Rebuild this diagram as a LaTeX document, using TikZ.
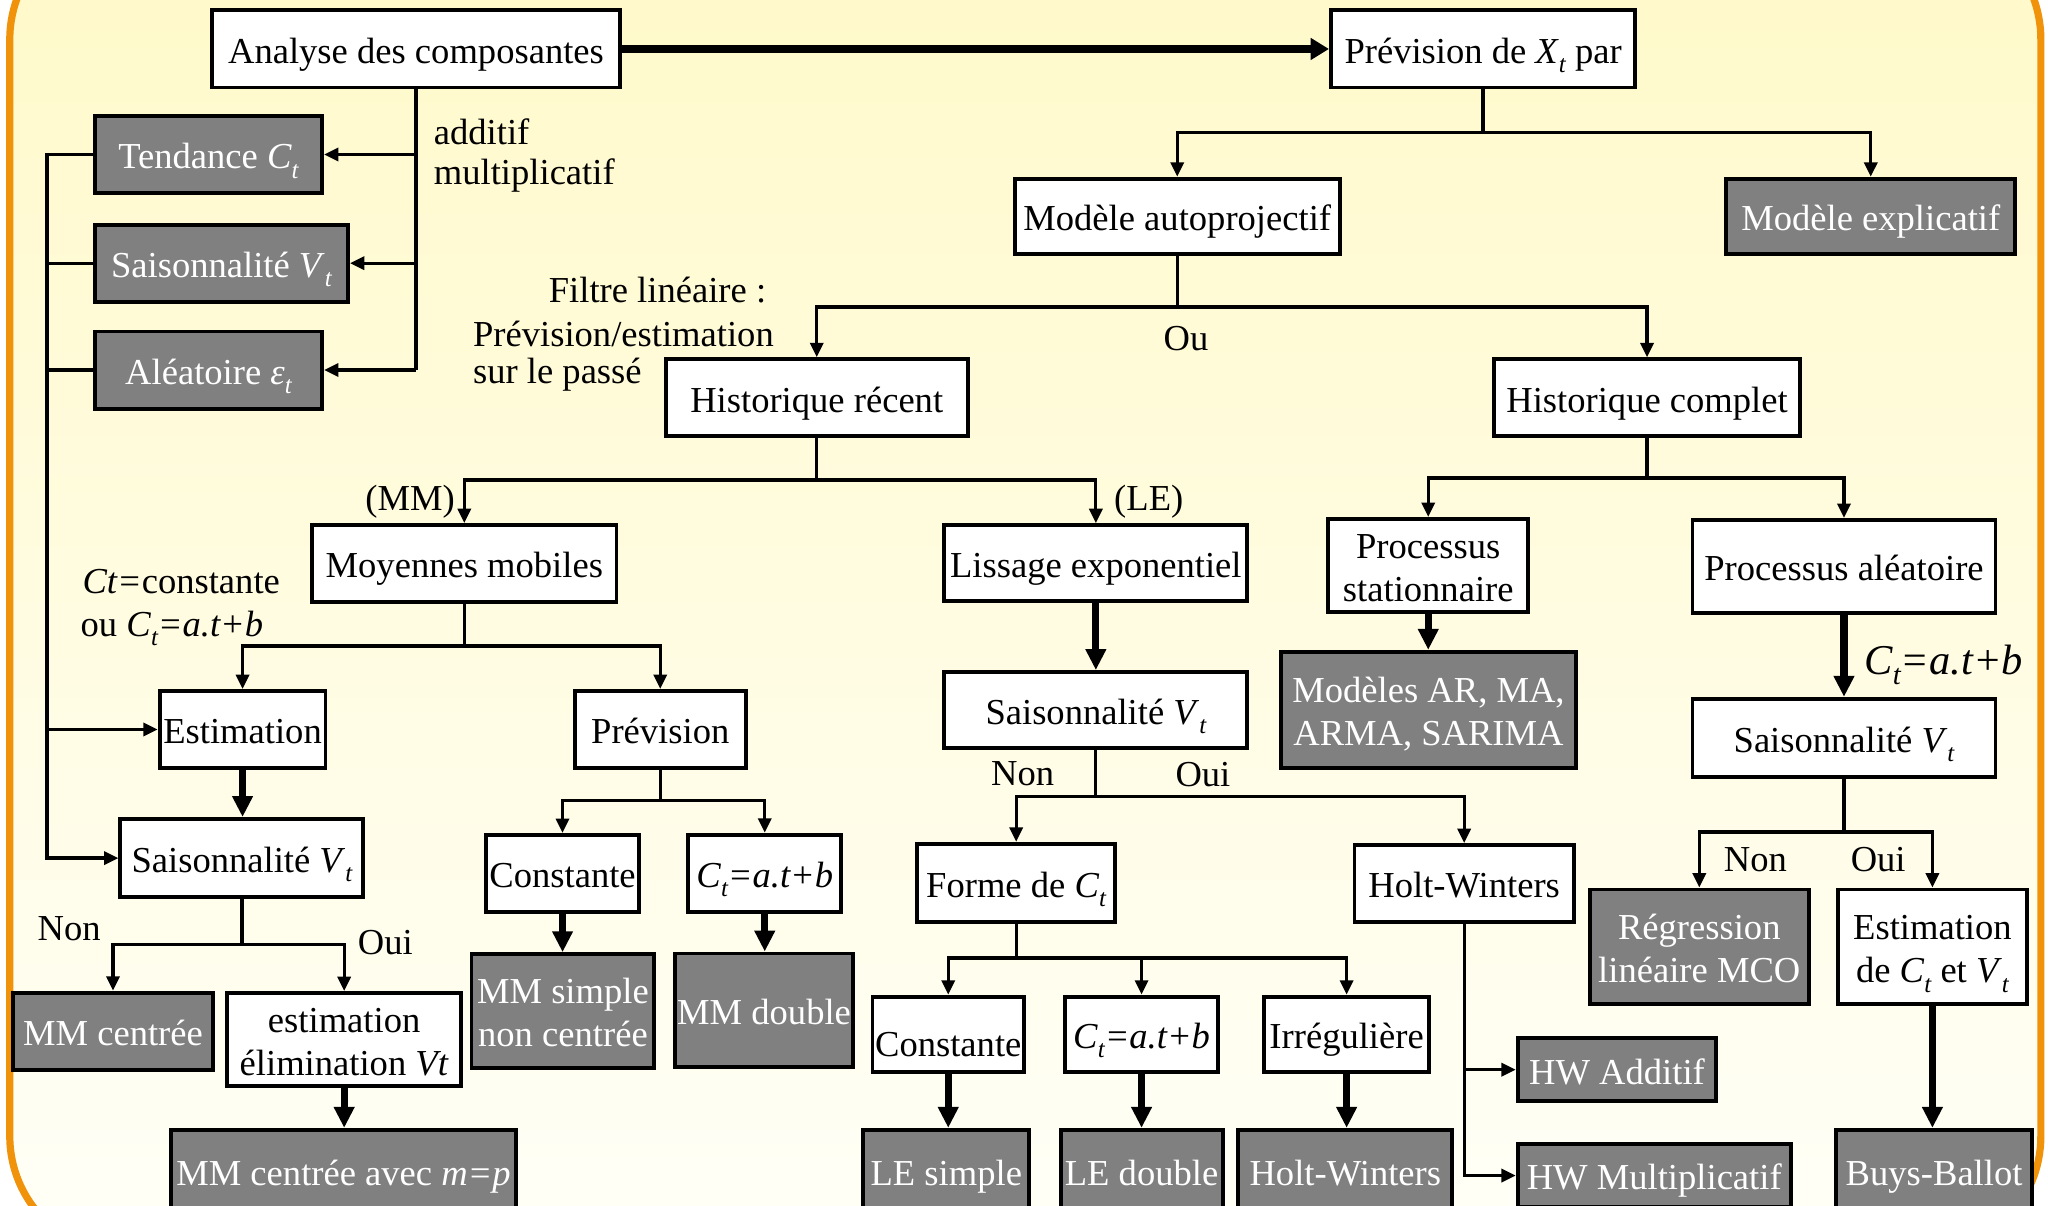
\documentclass[tikz,border=0pt]{standalone}
\usepackage{fontspec}
\setmainfont{Liberation Serif}
\usetikzlibrary{arrows.meta}
\definecolor{frameorange}{RGB}{240,146,10}
\definecolor{bgtop}{RGB}{255,249,200}
\definecolor{bgbot}{RGB}{255,255,248}
\definecolor{boxgray}{RGB}{128,128,128}
\newcommand\mysub[1]{\raisebox{-7pt}[0pt][0pt]{\fontsize{19}{19}\selectfont\itshape #1}}
\newcommand\myCt{\textit{C}\mysub{t}}
\newcommand\myVt{\textit{V}\mysub{t}}
\newcommand\mylin{\myCt\textit{=a.t+b}}
\newcommand\tstr{\rule{0pt}{28pt}}
\newcommand\dstr{\rule[-6pt]{0pt}{6pt}}
\begin{document}
\begin{tikzpicture}[x=1pt,y=-1pt,
  every node/.style={font=\fontsize{28}{33}\selectfont},
  box/.style={draw=black, line width=3pt, inner sep=0pt, align=center, text height=28pt, text depth=6pt},
  wbox/.style={box, fill=white},
  gbox/.style={box, fill=boxgray, text=white},
  ml/.style={text height={}, text depth={}},
  conn/.style={line width=2.5pt},
  arr/.style={line width=2.5pt, -{Triangle[length=11pt,width=10pt]}},
  tarr/.style={line width=5.5pt, -{Triangle[length=16pt,width=15pt]}},
  lbl/.style={inner sep=0pt}]
\useasboundingbox (0,0) rectangle (1568,923);
\clip (0,0) rectangle (1568,923);
% background and frame
\fill[white] (0,0) rectangle (1568,923);
\shade[top color=bgtop, bottom color=bgbot, rounded corners=90pt] (7.5,-60) rectangle (1562.5,960);
\draw[frameorange, line width=5.5pt, rounded corners=90pt] (7.5,-60) rectangle (1562.5,960);

% ---------- nodes ----------
\node[wbox, minimum width=313pt, minimum height=59pt] (ana) at (318.5,37.5) {Analyse des composantes};
\node[wbox, minimum width=233pt, minimum height=59pt] (prev) at (1135.5,37.5) {Prévision de \textit{X}\mysub{t} par};
\node[gbox, minimum width=174pt, minimum height=59pt] (tend) at (159.6,118.3) {Tendance \myCt};
\node[gbox, minimum width=194pt, minimum height=59pt] (sais1) at (169.5,201.5) {Saisonnalité \myVt};
\node[gbox, minimum width=174pt, minimum height=59pt] (alea) at (159.6,283.3) {Aléatoire \textit{ε}\mysub{t}};
\node[wbox, minimum width=249pt, minimum height=58pt] (auto) at (901.3,165.8) {Modèle autoprojectif};
\node[gbox, minimum width=221pt, minimum height=58pt] (expl) at (1432.3,165.8) {Modèle explicatif};
\node[wbox, minimum width=231pt, minimum height=59pt] (hrec) at (625.3,304.5) {Historique récent};
\node[wbox, minimum width=234pt, minimum height=59pt] (hcomp) at (1261,304.5) {Historique complet};
\node[wbox, minimum width=233pt, minimum height=59pt] (mm) at (355.5,431.5) {Moyennes mobiles};
\node[wbox, minimum width=232pt, minimum height=58pt] (le) at (839,431) {Lissage exponentiel};
\node[wbox, ml, minimum width=153pt, minimum height=71pt] (pstat) at (1093.5,432.8) {\tstr Processus\\stationnaire\dstr};
\node[wbox, minimum width=232pt, minimum height=71pt] (palea) at (1411.8,433.5) {Processus aléatoire};
\node[wbox, minimum width=127pt, minimum height=59pt] (est) at (185.7,558.5) {Estimation};
\node[wbox, minimum width=131pt, minimum height=59pt] (prevmm) at (505.5,558.5) {Prévision};
\node[wbox, minimum width=232pt, minimum height=58pt] (sais2) at (839,543.5) {Saisonnalité \myVt};
\node[gbox, ml, minimum width=226pt, minimum height=89pt] (armod) at (1093.7,543.5) {\tstr Modèles AR, MA,\\ARMA, SARIMA\dstr};
\node[wbox, minimum width=232pt, minimum height=60pt] (sais3) at (1411.8,565) {Saisonnalité \myVt};
\node[wbox, minimum width=186pt, minimum height=60pt] (sais4) at (185.2,657) {Saisonnalité \myVt};
\node[wbox, minimum width=117pt, minimum height=59pt] (cst1) at (430.7,668.7) {Constante};
\node[wbox, minimum width=117pt, minimum height=59pt] (lin1) at (585.5,668.5) {\mylin};
\node[wbox, minimum width=152pt, minimum height=60pt] (forme) at (778,676) {Forme de \myCt};
\node[wbox, minimum width=168pt, minimum height=59pt] (hw) at (1121,676.5) {Holt-Winters};
\node[gbox, ml, minimum width=168pt, minimum height=88pt] (regr) at (1301,725) {\tstr Régression\\linéaire MCO\dstr};
\node[wbox, ml, minimum width=145pt, minimum height=88pt] (estcv) at (1479.5,725) {\tstr Estimation\\de \myCt{} et \myVt\dstr};
\node[gbox, minimum width=153pt, minimum height=59pt] (mmc) at (86.5,789.5) {MM centrée};
\node[wbox, ml, minimum width=179pt, minimum height=71pt] (estel) at (263.5,795.7) {\tstr estimation\\élimination \textit{Vt}\dstr};
\node[gbox, ml, minimum width=140pt, minimum height=87pt] (mmsimple) at (431,774) {\tstr MM simple\\non centrée\dstr};
\node[gbox, minimum width=136pt, minimum height=87pt] (mmdouble) at (585,773.5) {MM double};
\node[wbox, minimum width=116pt, minimum height=58pt] (cst2) at (726,792) {\raisebox{-6pt}{Constante}};
\node[wbox, minimum width=117pt, minimum height=58pt] (lin2) at (874,792) {\mylin};
\node[wbox, minimum width=126pt, minimum height=58pt] (irreg) at (1031,792) {Irrégulière};
\node[gbox, minimum width=152pt, minimum height=48pt] (hwadd) at (1238,819) {HW Additif};
\node[gbox, minimum width=264pt, minimum height=64pt] (mmcp) at (263,897) {MM centrée avec \textit{m=p}};
\node[gbox, minimum width=127pt, minimum height=64pt] (lesimple) at (724.5,897) {LE simple};
\node[gbox, minimum width=124pt, minimum height=64pt] (ledouble) at (874,897) {LE double};
\node[gbox, minimum width=164pt, minimum height=64pt] (hwbot) at (1030,897) {Holt-Winters};
\node[gbox, minimum width=209pt, minimum height=48pt] (hwmult) at (1266.5,900) {HW Multiplicatif};
\node[gbox, minimum width=150pt, minimum height=64pt] (buys) at (1480.8,897) {Buys-Ballot};

% ---------- labels ----------
\node[lbl, anchor=west] (ladd) at (332,101) {additif};
\node[lbl, anchor=west] (lmul) at (332,134) {multiplicatif};
\node[lbl, anchor=west] (lfil) at (420,222) {Filtre linéaire :};
\node[lbl, anchor=west] (lpre) at (362,256) {Prévision/estimation};
\node[lbl, anchor=west] (lsur) at (362,287) {sur le passé};
\node[lbl] (lou) at (908,259) {Ou};
\node[lbl] (lmm) at (314,384) {(MM)};
\node[lbl] (lle) at (879.5,384) {(LE)};
\node[lbl, anchor=west] (lct1) at (63,445) {\textit{Ct=}constante};
\node[lbl, anchor=west] (lct2) at (61.5,478) {ou \mylin};
\node[lbl] (lnon1) at (53,711) {Non};
\node[lbl] (loui1) at (295,722) {Oui};
\node[lbl] (lnon2) at (783,592) {Non};
\node[lbl] (loui2) at (921,593) {Oui};
\node[lbl, anchor=west, font=\fontsize{32.5}{36}\selectfont] (lct3) at (1427,505) {\textit{C}\raisebox{-8pt}[0pt][0pt]{\fontsize{22}{22}\selectfont\itshape t}\textit{=a.t+b}};
\node[lbl] (lnon3) at (1344,658) {Non};
\node[lbl] (loui3) at (1438,658) {Oui};

% ---------- connectors ----------
\draw[line width=6pt, -{Triangle[length=14pt,width=16pt]}] (ana.east) -- (prev.west);

% analyse -> components
\draw[conn] (ana.south) -- (ana.south |- alea.east);
\draw[arr] (ana.south |- tend.east) -- (tend.east);
\draw[arr] (ana.south |- sais1.east) -- (sais1.east);
\draw[arr] (ana.south |- alea.east) -- (alea.east);

% left bus
\coordinate (bus) at (36,118.3);
\draw[arr] (tend.west) -- (bus) |- (sais4.west);
\draw[conn] (sais1.west) -- (bus |- sais1.west);
\draw[conn] (alea.west) -- (bus |- alea.west);
\draw[arr] (bus |- est.west) -- (est.west);

% splits
\coordinate (j1) at (1135.5,101.6);
\draw[conn] (prev.south) -- (j1);
\draw[arr] (j1) -| (auto.north);
\draw[arr] (j1) -| (expl.north);

\coordinate (j2) at (901.3,235);
\draw[conn] (auto.south) -- (j2);
\draw[arr] (j2) -| (hrec.north);
\draw[arr] (j2) -| (hcomp.north);

\coordinate (j3) at (625.3,367.5);
\draw[conn] (hrec.south) -- (j3);
\draw[arr] (j3) -| (mm.north);
\draw[arr] (j3) -| (le.north);

\coordinate (j4) at (1261,366);
\draw[conn] (hcomp.south) -- (j4);
\draw[arr] (j4) -| (pstat.north);
\draw[arr] (j4) -| (palea.north);

\coordinate (j5) at (355.5,494.6);
\draw[conn] (mm.south) -- (j5);
\draw[arr] (j5) -| (est.north);
\draw[arr] (j5) -| (prevmm.north);

\coordinate (j6) at (185.2,723);
\draw[conn] (sais4.south) -- (j6);
\draw[arr] (j6) -| (mmc.north);
\draw[arr] (j6) -| (estel.north);

\coordinate (j7) at (505.5,612.6);
\draw[conn] (prevmm.south) -- (j7);
\draw[arr] (j7) -| (cst1.north);
\draw[arr] (j7) -| (lin1.north);

\coordinate (j8) at (839,610);
\draw[conn] (sais2.south) -- (j8);
\draw[arr] (j8) -| (forme.north);
\draw[arr] (j8) -| (hw.north);

\coordinate (j9) at (778,733.5);
\draw[conn] (forme.south) -- (j9);
\draw[arr] (j9) -| (cst2.north);
\draw[arr] (j9) -| (lin2.north);
\draw[arr] (j9) -| (irreg.north);

\coordinate (j10) at (1411.8,637);
\draw[conn] (sais3.south) -- (j10);
\draw[arr] (j10) -| (regr.north);
\draw[arr] (j10) -| (estcv.north);

% holt-winters branches
\draw[arr] (hw.south) |- (hwmult.west);
\draw[arr] (hw.south |- hwadd.west) -- (hwadd.west);

% thick arrows
\draw[tarr] (est.south) -- (est.south |- sais4.north);
\draw[tarr] (estel.south) -- (estel.south |- mmcp.north);
\draw[tarr] (cst1.south) -- (cst1.south |- mmsimple.north);
\draw[tarr] (lin1.south) -- (lin1.south |- mmdouble.north);
\draw[tarr] (le.south) -- (le.south |- sais2.north);
\draw[tarr] (cst2.south) -- (cst2.south |- lesimple.north);
\draw[tarr] (lin2.south) -- (lin2.south |- ledouble.north);
\draw[tarr] (irreg.south) -- (irreg.south |- hwbot.north);
\draw[tarr] (pstat.south) -- (pstat.south |- armod.north);
\draw[tarr] (palea.south) -- (palea.south |- sais3.north);
\draw[tarr] (estcv.south) -- (estcv.south |- buys.north);
\end{tikzpicture}
\end{document}
